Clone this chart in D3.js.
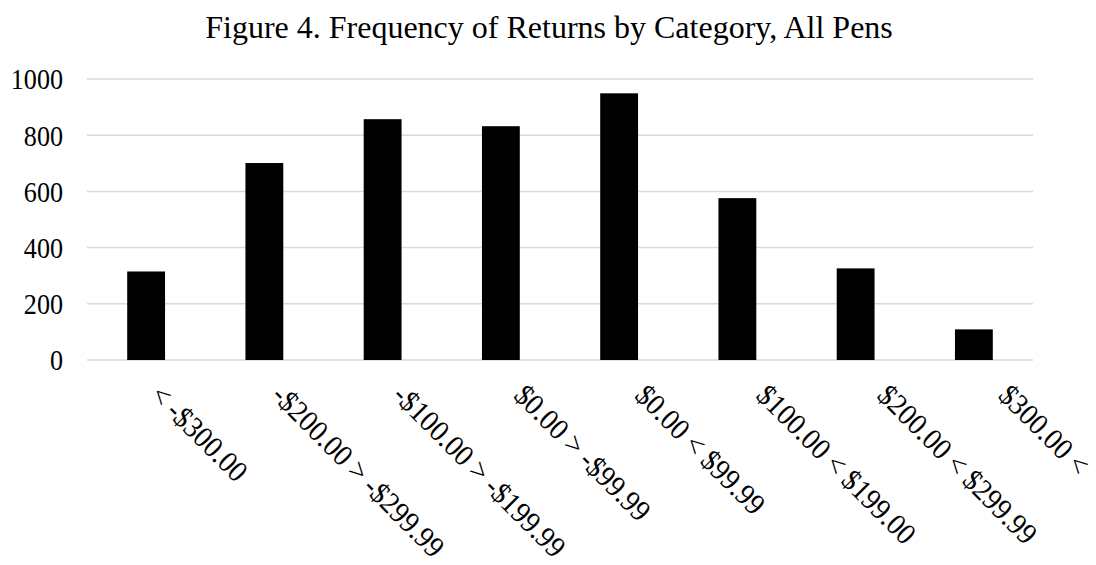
<!DOCTYPE html>
<html><head><meta charset="utf-8">
<script src="https://cdn.jsdelivr.net/npm/d3@7"></script>
<style>html,body{margin:0;padding:0;background:#fff;}svg{display:block;}</style>
</head><body>
<svg id="c" width="1096" height="565"></svg>
<script>
const title = "Figure 4. Frequency of Returns by Category, All Pens";
const categories = ["< -$300.00", "-$200.00 > -$299.99", "-$100.00 > -$199.99", "$0.00 > -$99.99",
  "$0.00 < $99.99", "$100.00 < $199.00", "$200.00 < $299.99", "$300.00 <"];
const counts = [315, 701, 857, 832, 949, 576, 326, 109];
const yTicks = [0, 200, 400, 600, 800, 1000];

const svg = d3.select("#c");
const font = "'Liberation Serif','Times New Roman',serif";
const mLeft = 87, mRight = 1033, mTop = 79, mBottom = 360;

const x = d3.scaleBand().domain(categories).range([mLeft, mRight]).paddingInner(0.68).paddingOuter(0.34);
const y = d3.scaleLinear().domain([0, 1000]).range([mBottom, mTop]);
// category labels sit on a slightly wider spacing than the bars, as in the original
const xLab = d3.scalePoint().domain(categories).range([149, 997]);

svg.append("text").attr("x", 549).attr("y", 38).attr("text-anchor", "middle")
  .attr("font-family", font).attr("font-size", 32).attr("fill", "#000").text(title);

const grid = svg.append("g");
grid.selectAll("line").data(yTicks).join("line")
  .attr("x1", mLeft).attr("x2", mRight)
  .attr("y1", d => y(d)).attr("y2", d => y(d))
  .attr("stroke", "#d9d9d9").attr("stroke-width", 1.5);

const yAxis = d3.axisLeft(y).tickValues(yTicks).tickFormat(d3.format("d")).tickSize(0).tickPadding(0);
const ya = svg.append("g").attr("transform", `translate(${mLeft - 24},0)`).call(yAxis);
ya.select(".domain").remove();
ya.selectAll(".tick text")
  .attr("x", 0).attr("dy", "0.33em")
  .attr("transform", "scale(0.87,1)")
  .attr("font-family", font).attr("font-size", 30).attr("fill", "#000");

svg.append("g").selectAll("rect").data(counts).join("rect")
  .attr("x", (d, i) => x(categories[i]))
  .attr("width", x.bandwidth())
  .attr("y", d => y(d))
  .attr("height", d => y(0) - y(d))
  .attr("fill", "#000");

svg.append("g").selectAll("text").data(categories).join("text")
  .attr("transform", d => `translate(${xLab(d)},397) rotate(45) scale(0.93,1)`)
  .attr("font-family", font).attr("font-size", 30).attr("fill", "#000")
  .attr("text-anchor", "start").text(d => d);
</script>
</body></html>
